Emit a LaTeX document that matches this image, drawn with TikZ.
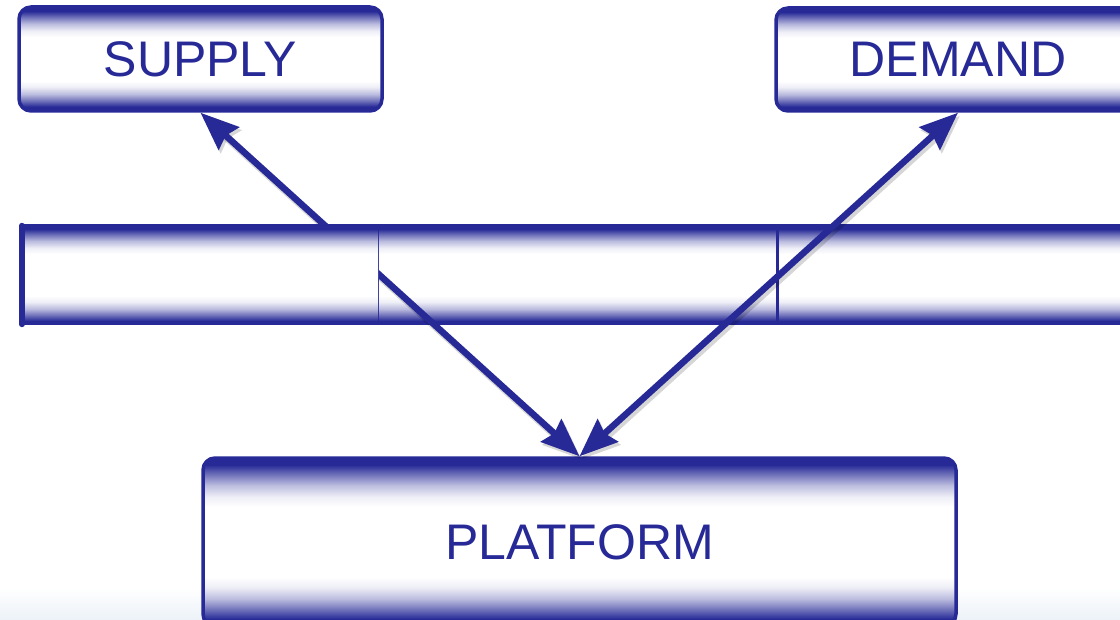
\documentclass[tikz,border=0pt]{standalone}
\usepackage{fontspec}
\setmainfont{Liberation Sans}
\usetikzlibrary{arrows.meta}
\definecolor{dblue}{RGB}{38,41,150}
\definecolor{floor}{RGB}{236,242,248}
% dark rim at top and bottom, fading to white in the middle
\pgfdeclareverticalshading{tube}{100bp}{%
  color(0bp)=(dblue); color(27bp)=(dblue); color(30bp)=(dblue!65!white);
  color(33bp)=(dblue!32!white); color(36.5bp)=(dblue!8!white); color(39.5bp)=(white);
  color(60.5bp)=(white); color(63.5bp)=(dblue!8!white); color(67bp)=(dblue!32!white);
  color(70bp)=(dblue!65!white); color(73bp)=(dblue); color(100bp)=(dblue)}
\begin{document}
\begin{tikzpicture}[x=1pt,y=-1pt,
  box/.style={draw=dblue, line width=3.5pt, rounded corners=12pt, shade, shading=tube,
    text=dblue, font=\fontsize{50}{50}\selectfont, inner sep=0pt},
  seg/.style={shade, shading=tube, inner sep=0pt, minimum height=100pt},
  tip/.style={Stealth[length=38pt,width=30pt,inset=4pt]},
  link/.style={draw=dblue, line width=6.5pt, {Stealth[length=38pt,width=30pt,inset=4pt]}-{Stealth[length=38pt,width=30pt,inset=4pt]}},
  linkshadow/.style={draw=black, opacity=0.16, line width=7.5pt,
    {Stealth[length=38pt,width=30pt,inset=4pt]}-{Stealth[length=38pt,width=30pt,inset=4pt]}},
  divider/.style={dblue, line width=3pt, line cap=round}]
\useasboundingbox (0,0) rectangle (1120,620);
\clip (0,0) rectangle (1120,620);

% pale floor along the bottom
\shade[top color=white, bottom color=floor] (0,588) rectangle (1120,620);

% the three boxes
\node[box, minimum width=363pt, minimum height=104pt] (supply) at (200.5,59) {SUPPLY};
\node[box, minimum width=364pt, minimum height=103pt] (demand) at (958,59.5) {DEMAND};
\node[box, minimum width=753pt, minimum height=168pt] (platform) at (579.5,542) {PLATFORM};

% middle and right parts of the band
\node[seg, minimum width=400pt] (seg2) at (578,275) {};
\node[seg, minimum width=357pt] (seg3) at (956.5,275) {};
\draw[divider] ([yshift=-2pt]seg2.north west) -- ([yshift=2pt]seg2.south west);
\draw[divider] ([yshift=-2pt]seg3.north west) -- ([yshift=2pt]seg3.south west);

% two-headed links from the platform
\draw[linkshadow] ([shift={(2,3)}]platform.north) -- ([shift={(2,3)}]supply.south);
\draw[linkshadow] ([shift={(2,3)}]platform.north) -- ([shift={(2,3)}]demand.south);
\draw[link] (platform.north) -- (supply.south);
\draw[link] (platform.north) -- (demand.south);

% left part of the band lies over the supply link
\node[seg, minimum width=356pt] (seg1) at (200,275) {};
\draw[dblue, line width=6pt, line cap=round] ([yshift=-1pt]seg1.north west) -- ([yshift=1pt]seg1.south west);
\end{tikzpicture}
\end{document}
